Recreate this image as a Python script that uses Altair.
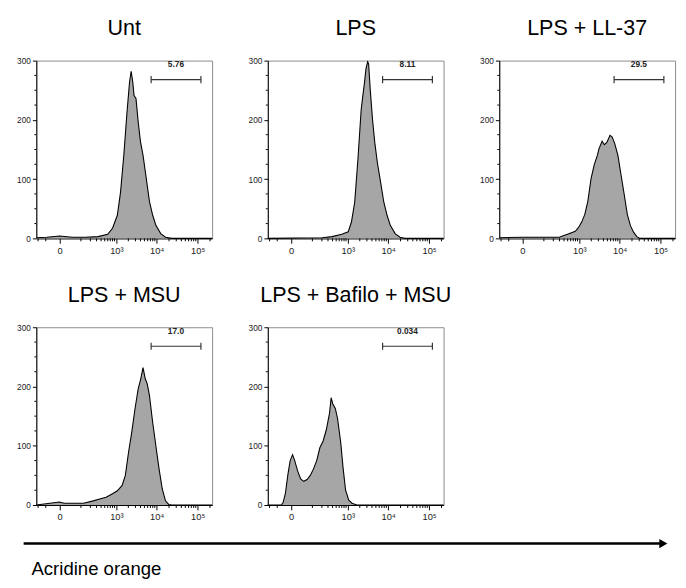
import altair as alt
import pandas as pd

FONT = "Liberation Sans"

titles = ["Unt", "LPS", "LPS + LL-37", "LPS + MSU", "LPS + Bafilo + MSU"]
gate_labels = ["5.76", "8.11", "29.5", "17.0", "0.034"]

# Acridine orange fluorescence (biexponential display) vs. cell count
unt_x = [-115, -45, 0, 45, 139, 331, 599, 799, 1060, 1277, 1540, 1852, 2146, 2352, 2577, 2772,
         3096, 3518, 4000, 4622, 5550, 6650, 7970, 9550, 12540, 16440, 23600, 225000]
unt_y = [1, 2, 4, 2, 2, 3, 7, 17, 39, 78, 140, 213, 264, 282, 264, 241,
         236, 196, 163, 140, 101, 62, 39, 22, 8, 2, 0, 0]

lps_x = [-115, 207, 388, 700, 1024, 1238, 1492, 1798, 2163, 2374, 2605, 2856, 3130, 3306,
         3625, 4124, 4687, 5426, 6513, 7822, 9383, 11260, 14800, 19440, 25540, 225000]
lps_y = [0, 1, 3, 7, 11, 28, 61, 134, 217, 240, 262, 287, 298, 295,
         251, 201, 162, 128, 95, 61, 39, 22, 8, 2, 0, 0]

ll37_x = [-115, 0, 299, 366, 540, 788, 949, 1140, 1372, 1646, 1975, 2365, 2830, 3097, 3707,
          4200, 4850, 5800, 6570, 7580, 9060, 10820, 12930, 15440, 18450, 22040, 26340, 31430, 225000]
ll37_y = [1, 2, 2, 4, 8, 12, 18, 27, 40, 63, 101, 124, 140, 151, 164,
          158, 162, 174, 171, 160, 140, 107, 74, 40, 21, 10, 3, 0, 0]

msu_x = [-115, 0, 13, 123, 242, 366, 543, 798, 1058, 1400, 1686, 2026, 2434, 2924, 3509,
         4063, 4615, 5240, 5844, 6635, 7947, 9530, 11420, 13680, 16400, 19630, 23520, 225000]
msu_y = [0, 5, 3, 3, 7, 10, 13, 19, 24, 33, 50, 89, 123, 162, 196,
         213, 232, 213, 205, 185, 140, 100, 61, 27, 7, 1, 0, 0]

baf_x = [-115, -31, -24, -16, -8, -2, 4, 10, 19, 31, 45, 63, 84, 109, 139, 175, 218, 269,
         331, 366, 404, 474, 543, 659, 753, 877, 1058, 1275, 1686, 225000]
baf_y = [0, 0, 4, 19, 52, 75, 85, 75, 58, 44, 40, 43, 50, 61, 75, 97, 108, 127,
         155, 181, 171, 163, 146, 105, 64, 25, 8, 3, 0, 0]

series = [(unt_x, unt_y), (lps_x, lps_y), (ll37_x, ll37_y), (msu_x, msu_y), (baf_x, baf_y)]

x_major = [0, 1000, 10000, 100000]
x_minor = [-100, -50, 100, 200, 300, 400, 500, 600, 700, 800, 900,
           2000, 3000, 4000, 5000, 6000, 7000, 8000, 9000,
           20000, 30000, 40000, 50000, 60000, 70000, 80000, 90000, 200000]
y_major = [0, 100, 200, 300]
y_minor = [25, 50, 75, 125, 150, 175, 225, 250, 275]

gate_lo, gate_hi, gate_y, gate_text_y, gate_mid = 7300, 120000, 268, 286, 29500
axis_label = "Acridine orange"

W, H = 180, 182
XDOM = [-115, 225000]

XAXIS = alt.Axis(values=x_major, tickSize=5, labelPadding=2, title=None, labelFontSize=9.5,
                 labelExpr="datum.value == 0 ? '0' : datum.value == 1000 ? '10³' : datum.value == 10000 ? '10⁴' : '10⁵'")
YAXIS = alt.Axis(values=y_major, tickSize=4, labelPadding=2, title=None)


def panel(title, xs, ys, glabel):
    xscale = alt.Scale(type="symlog", constant=43, domain=XDOM, nice=False)
    yscale = alt.Scale(domain=[0, 300], nice=False, zero=False)

    def X(f):
        return alt.X(f, scale=xscale, axis=XAXIS, title=None)

    def Y(f):
        return alt.Y(f, scale=yscale, axis=YAXIS, title=None)

    df = pd.DataFrame({"x": xs, "y": ys})
    area = alt.Chart(df).mark_area(
        color="#a6a6a6", opacity=1,
        line={"color": "black", "strokeWidth": 1.1},
    ).encode(x=X("x:Q"), y=Y("y:Q"))
    xmin = alt.Chart(pd.DataFrame({"x": x_minor})).mark_rule(color="black", strokeWidth=1).encode(
        x=X("x:Q"), y=alt.value(H), y2=alt.value(H + 3),
    )
    ymin = alt.Chart(pd.DataFrame({"y": y_minor})).mark_rule(color="black", strokeWidth=1).encode(
        y=Y("y:Q"), x=alt.value(0), x2=alt.value(-2),
    )
    gdf = pd.DataFrame({"x": [gate_lo], "x2": [gate_hi], "y": [gate_y], "t": [glabel],
                        "xm": [gate_mid], "ty": [gate_text_y]})
    gate = alt.Chart(gdf).mark_rule(color="#333", strokeWidth=1.2).encode(
        x=X("x:Q"), x2="x2:Q", y=Y("y:Q"),
    )
    cdf = pd.DataFrame({"x": [gate_lo, gate_hi], "y": [gate_y - 6] * 2, "y2": [gate_y + 6] * 2})
    caps = alt.Chart(cdf).mark_rule(color="#333", strokeWidth=1.2).encode(
        x=X("x:Q"), y=Y("y:Q"), y2="y2:Q",
    )
    txt = alt.Chart(gdf).mark_text(font=FONT, fontSize=8.5, fontWeight="bold", color="#222",
                                   baseline="bottom").encode(
        x=X("xm:Q"), y=Y("ty:Q"), text="t:N",
    )
    return alt.layer(area, xmin, ymin, gate, caps, txt).properties(
        width=W, height=H,
        title=alt.TitleParams(title, font=FONT, fontSize=22, fontWeight="normal",
                              color="black", offset=17, anchor="middle"),
    )


panels = [panel(t, xs, ys, g) for t, (xs, ys), g in zip(titles, series, gate_labels)]

row1 = alt.hconcat(*panels[:3], spacing=33)
row2 = alt.hconcat(*panels[3:], spacing=33)
grid = alt.vconcat(row1, row2, spacing=29)

adf = pd.DataFrame({"label": [axis_label]})
arrow_line = alt.Chart(adf).mark_rule(color="black", strokeWidth=2.6).encode(
    x=alt.value(-13), x2=alt.value(642), y=alt.value(10.5))
arrow_head = alt.Chart(adf).mark_point(shape="triangle-right", filled=True, color="black",
                                       opacity=1, size=90).encode(
    x=alt.value(642), y=alt.value(10.5))
arrow_text = alt.Chart(adf).mark_text(font=FONT, fontSize=19, align="left", baseline="alphabetic",
                                      color="black").encode(
    x=alt.value(-5), y=alt.value(43), text="label:N")
bottom = alt.layer(arrow_line, arrow_head, arrow_text).properties(
    width=630, height=46, view=alt.ViewBackground(strokeOpacity=0))

chart = alt.vconcat(grid, bottom, spacing=12).properties(
    padding={"left": 8, "top": 2, "right": 0, "bottom": -2}
).configure_view(
    stroke="#8a8a8a", strokeWidth=1
).configure_axis(
    domainColor="black", tickColor="black", labelColor="#222", labelFont=FONT,
    labelFontSize=8.5, grid=False, domainWidth=1
)

chart.save("out.html", embed_options={"renderer": "svg", "actions": False})
